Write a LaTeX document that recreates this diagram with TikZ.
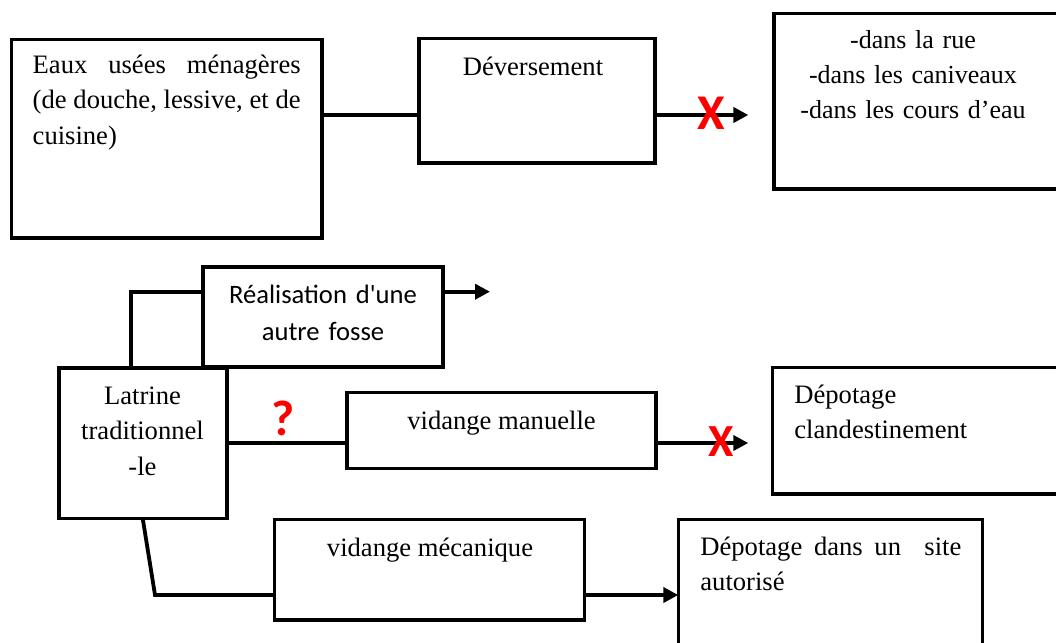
\documentclass[tikz,border=0pt]{standalone}
\usepackage{fontspec}
\setmainfont{Liberation Serif}
\newfontfamily\calib{Carlito}[Ligatures=TeXOff]
\usepackage{tikz}
\usetikzlibrary{arrows.meta,positioning,fit}
\definecolor{markred}{RGB}{255,0,0}
\tikzset{
  box/.style={rectangle, draw=black, line width=1.8pt, inner sep=0pt, outer sep=0pt},
  txt/.style={inner sep=0pt, font=\fontsize{13.3}{17.8}\selectfont},
  txtsans/.style={inner sep=0pt, font=\calib\fontsize{13.3}{18.5}\selectfont, align=center},
  link/.style={line width=1.9pt},
  arrow/.style={-{Triangle[length=7.5pt, width=7.5pt]}, line width=1.9pt},
  cross/.style={inner sep=0pt, text=markred, font=\calib\bfseries\fontsize{25}{26}\selectfont},
}

\begin{document}
\begin{tikzpicture}[x=0.5pt, y=-0.5pt]
\clip (0,0) rectangle (1056,643);

% boxes
\node[box, fit={(11.5,39.5) (322,238)}] (eaux) {};
\node[box, fit={(419,38.5) (655,163)}] (dev) {};
\node[box, fit={(774,13.5) (1070,189)}] (rue) {};
\node[box, fit={(203,266.7) (443,366.7)}] (real) {};
\node[box, fit={(58.7,367.7) (226.7,518.3)}] (latrine) {};
\node[box, fit={(346.7,392.3) (655.8,468.3)}] (manuelle) {};
\node[box, fit={(772.3,367.3) (1070,494)}] (clandest) {};
\node[box, fit={(274.3,519.3) (584.3,620)}] (mecanique) {};
\node[box, fit={(678.3,519.3) (982.3,670)}] (autorise) {};

% texts
\node[txt, text width=134pt, align=justify, anchor=base west] (eaux-t) at (32.3,73.3)
  {Eaux usées ménagères\linebreak (de douche, lessive, et de\linebreak cuisine)};
\node[txt, anchor=base] (dev-t) at (533,75) {Déversement};
\node[txt, font=\fontsize{13}{17.5}\selectfont, text width=140pt, align=center, anchor=base] (rue-t) at (913,48.3)
  {-dans la rue\\-dans les caniveaux\\-dans les cours d’eau};
\node[txtsans, text width=110pt, anchor=base] (real-t) at (323,303.3) {Réalisation d'une\\autre fosse};
\node[txt, text width=80pt, align=center, anchor=base] (latrine-t) at (142.5,404)
  {Latrine\\traditionnel\\-le};
\node[txt, anchor=base] (manuelle-t) at (501.5,429) {vidange manuelle};
\node[txt, text width=120pt, align=left, anchor=base west] (clandest-t) at (794,403.3)
  {Dépotage\\clandestinement};
\node[txt, anchor=base] (mecanique-t) at (430,556) {vidange mécanique};
\node[txt, text width=130.5pt, align=justify, anchor=base west] (autorise-t) at (700,555)
  {Dépotage dans un\ \ site\linebreak autorisé};

% connectors
\coordinate (row1) at (0,115);
\coordinate (top) at (130.7,291.7);
\coordinate (free) at (490,291.7);
\coordinate (bend) at (155,595);
\draw[link] (eaux.east |- row1) -- (dev.west |- row1);
\draw[arrow, shorten >=12.8pt] (dev.east |- row1) -- (rue.west |- row1);
\draw[link] (latrine.north -| top) |- (real.west |- top);
\draw[arrow] (real.east |- top) -- (free);
\draw[link] (latrine.east) -- (latrine.east -| manuelle.west);
\draw[arrow, shorten >=12pt] (manuelle.east |- latrine.east) -- (clandest.west |- latrine.east);
\draw[link] (latrine.south) -- (bend) -- (bend -| mecanique.west);
\draw[arrow] (mecanique.east |- bend) -- (autorise.west |- bend);

% marks
\node[cross] (x-rue) at (711.7,113) {X};
\node[cross, font=\calib\bfseries\fontsize{23}{24}\selectfont] (x-clandest) at (721,441.7) {X};
\node[cross] (q-manuelle) at (282.7,418.3) {?};
\end{tikzpicture}
\end{document}
